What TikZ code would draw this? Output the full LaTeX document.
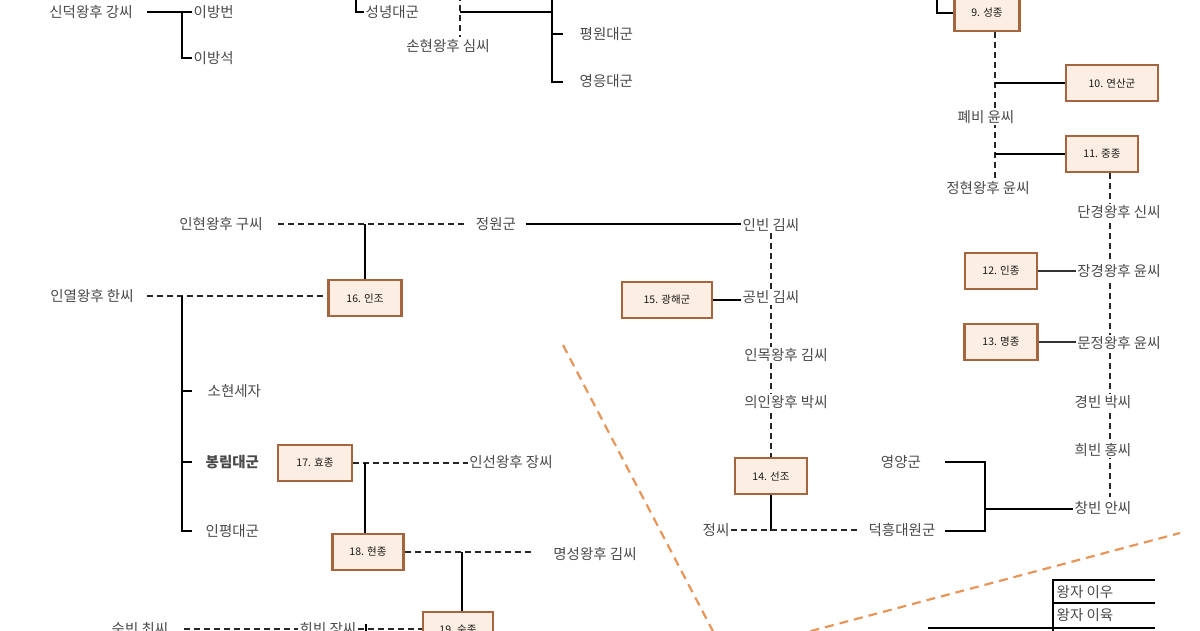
\documentclass[tikz,border=0pt]{standalone}
\usepackage{fontspec}
\setmainfont{Noto Sans CJK KR}
\usetikzlibrary{backgrounds}
\definecolor{txtc}{HTML}{4A4A4A}
\definecolor{boxb}{HTML}{A5653F}
\definecolor{boxf}{HTML}{FCEEE2}
\definecolor{orgc}{HTML}{E8955A}
\begin{document}
\begin{tikzpicture}[x=1pt,y=-1pt,
 txt/.style={font=\fontsize{14.5}{16}\selectfont, text=txtc, fill=white, inner sep=1.5pt},
 king/.style={draw=boxb, line width=2.8pt, fill=boxf, font=\fontsize{10.5}{12}\selectfont, text=black!90, minimum height=36pt, inner sep=0pt},
 sol/.style={line width=2.7pt, black},
 dsh/.style={line width=1.9pt, black!85, dash pattern=on 6pt off 4pt},
 thn/.style={line width=1.2pt, black!80},
 org/.style={line width=2.2pt, orgc, dash pattern=on 9pt off 6pt}]
\useasboundingbox (0,0) rectangle (1200,630);

% ---- top left
\node[txt] (sindeok) at (91,12) {신덕왕후 강씨};
\node[txt,anchor=west] (bangbeon) at (192,12) {이방번};
\node[txt,anchor=west] (bangseok) at (192,58) {이방석};
\coordinate (j1) at (182,12);

% ---- top middle
\node[txt,anchor=west] (seongnyeong) at (364,12) {성녕대군};
\node[txt] (soheon) at (448,46) {손현왕후 심씨};
\node[txt,anchor=west] (pyeongwon) at (578,34) {평원대군};
\node[txt,anchor=west] (yeongeung) at (578,81) {영응대군};

% ---- top right
\node[king, minimum width=65pt] (b9) at (987,13) {9. 성종};
\node[king, minimum width=92pt] (b10) at (1112,83) {10. 연산군};
\node[txt] (pyebi) at (986,117) {폐비 윤씨};
\node[king, minimum width=72pt] (b11) at (1102,154) {11. 중종};
\node[txt] (jeonghyeon) at (988,188) {정현왕후 윤씨};

\node[txt] (danggyeong) at (1119,212) {단경왕후 신씨};
\node[txt] (janggyeong) at (1119,271) {장경왕후 윤씨};
\node[txt] (munjeong) at (1119,343) {문정왕후 윤씨};
\node[txt] (gyeongbin) at (1103,402) {경빈 박씨};
\node[txt] (huibin) at (1103,450) {희빈 홍씨};
\node[txt] (changbin) at (1103,508) {창빈 안씨};
\node[king, minimum width=72pt] (b12) at (1001,271) {12. 인종};
\node[king, minimum width=73pt] (b13) at (1001,342) {13. 명종};

\node[txt] (yeongyang) at (901,462) {영양군};
\node[txt] (deokheung) at (902,530) {덕흥대원군};
\coordinate (c1) at (985,509);

% ---- middle
\node[txt] (inbin) at (771,225) {인빈 김씨};
\node[txt] (gongbin) at (771,297) {공빈 김씨};
\node[txt] (inmok) at (786,355) {인목왕후 김씨};
\node[txt] (uiin) at (786,402) {의인왕후 박씨};
\node[king, minimum width=90pt] (b15) at (667,300) {15. 광해군};
\node[king, minimum width=72pt] (b14) at (771,476) {14. 선조};
\node[txt] (jeongssi) at (716,530) {정씨};

% ---- left
\node[txt] (inhyeon) at (221,224) {인현왕후 구씨};
\node[txt] (jeongwon) at (496,224) {정원군};
\node[king, minimum width=73pt] (b16) at (365,298) {16. 인조};
\node[txt] (inyeol) at (92,296) {인열왕후 한씨};
\node[txt,anchor=west] (sohyeon) at (206,391) {소현세자};
\node[txt,anchor=west] (bongnim) at (204,462) {\bfseries 봉림대군};
\node[txt,anchor=west] (inpyeong) at (204,531) {인평대군};
\node[king, minimum width=74pt] (b17) at (315,463) {17. 효종};
\node[txt] (inseon) at (511,462) {인선왕후 장씨};
\node[king, minimum width=71pt] (b18) at (368,552) {18. 현종};
\node[txt] (myeongseong) at (595,554) {명성왕후 김씨};
\node[king, minimum width=70pt] (b19) at (458,630) {19. 숙종};
\node[txt] (sukbin) at (140,629) {숙빈 최씨};
\node[txt] (huibinjang) at (328,629) {희빈 장씨};

% ---- bottom right
\node[txt,anchor=west] (iu) at (1055,592) {왕자 이우};
\node[txt,anchor=west] (iyuk) at (1055,615) {왕자 이육};

\begin{scope}[on background layer]
% top left
\draw[sol] ([xshift=13pt]sindeok.east) -- (sindeok.east -| bangbeon.west);
\draw[sol] (j1) |- (bangseok.west);
% top middle
\draw[sol] (356,-5) |- (seongnyeong.west);
\draw[dsh] (460,-5) -- (460,37);
\draw[sol] (460,12) -- (552,12);
\draw[sol] (552,34) -- (563,34);
\draw[sol] (552,-5) |- (563,82);
% top right
\draw[sol] (937,-5) |- (b9.west);
\draw[dsh] ([xshift=8pt]b9.south) -- (995,180);
\draw[sol] (995,83) -- (b10.west);
\draw[sol] (995,154) -- (b11.west);
\draw[dsh] ([xshift=8pt]b11.south) -- (1110,497);
\draw[thn] (b12.east) -- (b12.east -| janggyeong.west);
\draw[thn] (b13.east) -- (b13.east -| munjeong.west);
\draw[sol] (945,462) -| (985,531) -- (945,531);
\draw[sol] (c1) -- (c1 -| changbin.west);
% middle
\draw[sol] ([xshift=8pt]jeongwon.east) -- (jeongwon.east -| inbin.west);
\draw[dsh] (inbin.south) -- (b14.north);
\draw[sol] (b15.east) -- (b15.east -| gongbin.west);
\draw[sol] (b14.south) -- (771,531);
\draw[dsh] (jeongssi.east) -- ([xshift=-8pt]jeongssi.east -| deokheung.west);
% left
\draw[dsh] ([xshift=14pt]inhyeon.east) -- ([xshift=-8pt]inhyeon.east -| jeongwon.west);
\draw[sol] (365,224) -- (b16.north);
\draw[dsh] ([xshift=12pt]inyeol.east) -- (inyeol.east -| b16.west);
\draw[sol] (182,296) |- (192,531);
\draw[sol] (182,391) -- (192,391);
\draw[sol] (182,462) -- (192,462);
\draw[dsh] (b17.east) -- (b17.east -| inseon.west);
\draw[sol] (365,463) -- (365,533);
\draw[dsh] (b18.east) -- (532,552);
\draw[sol] (462,552) -- (462,611);
\draw[dsh] ([xshift=14pt]sukbin.east) -- (sukbin.east -| huibinjang.west);
\draw[dsh] (huibinjang.east) -- (huibinjang.east -| b19.west);
\draw[sol] (366,624) -- (366,640);
% bottom right
\draw[sol] (1155,580) -- (1053,580) -- (1053,640);
\draw[sol] (1053,603) -- (1155,603);
\draw[sol] (928,628) -- (1155,628);
\end{scope}

% orange separators
\draw[org] (563,345) -- (716,637);
\draw[org] (796,635) -- (1180,533);
\end{tikzpicture}
\end{document}
